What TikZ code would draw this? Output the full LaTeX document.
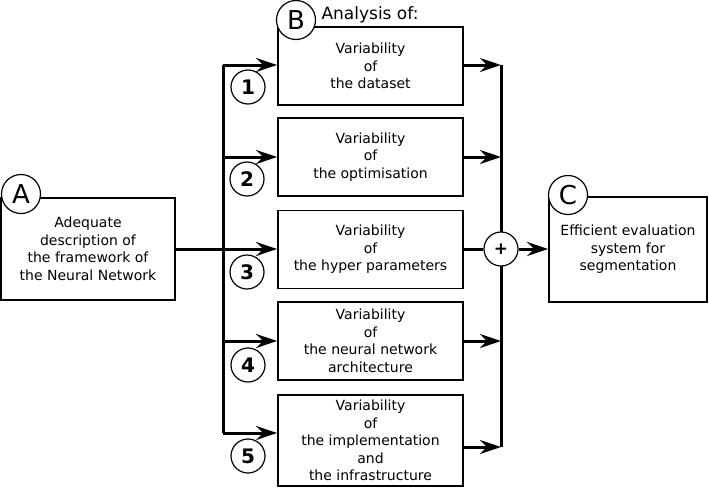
\documentclass[tikz,border=0pt]{standalone}
\usepackage{fontspec}
\setmainfont{DejaVu Sans}
\usetikzlibrary{arrows.meta,positioning}

\tikzset{
  stage/.style={draw, line width=1.8pt, align=center, inner sep=2pt,
    minimum width=185pt, minimum height=78pt,
    font=\fontsize{14}{17.5}\selectfont},
  letter/.style={draw, circle, fill=white, line width=1.2pt, inner sep=0pt,
    minimum size=39pt, font=\fontsize{26}{26}\selectfont},
  num/.style={draw, circle, line width=1.2pt, inner sep=0pt,
    minimum size=34pt, font=\bfseries\fontsize{20}{20}\selectfont},
  flow/.style={line width=3pt, -{Stealth[length=21pt,width=14pt,inset=7pt]}},
  bus/.style={line width=3pt}
}

\begin{document}
\begin{tikzpicture}[x=1pt,y=-1pt]
\useasboundingbox (0,0) rectangle (709,488);

% input block
\node[stage, minimum width=174pt, minimum height=102pt] (desc) at (88,249)
  {Adequate\\description of\\the framework of\\the Neural Network};
\node[letter] (A) at (21,194) {A};

% analysis blocks
\node[stage] (var1) at (370.5,66) {Variability\\of\\the dataset};
\node[stage] (var2) at (370.5,157) {Variability\\of\\the optimisation};
\node[stage] (var3) at (370.5,249.5) {Variability\\of\\the hyper parameters};
\node[stage] (var4) at (370.5,341) {Variability\\of\\the neural network\\architecture};
\node[stage, minimum height=91pt] (var5) at (370.5,440.5)
  {Variability\\of\\the implementation\\and\\the infrastructure};
\node[letter] (B) at (296,20) {B};
\node[anchor=west, font=\fontsize{17}{17}\selectfont] (title) at (318,15) {Analysis of:};

% output block
\node[stage, minimum width=158pt, minimum height=105pt] (eval) at (628,249.5)
  {Efficient evaluation\\system for\\segmentation};
\node[letter] (C) at (568,195) {C};

% left bus
\coordinate (in1) at (223,65);
\coordinate (in2) at (223,157);
\coordinate (in3) at (223,249);
\coordinate (in4) at (223,341);
\coordinate (in5) at (223,433);
\draw[bus] (in1) -- (in5);
\draw[flow] (desc.east |- in3) -- (in3 -| var3.west);
\foreach \i in {1,2,4,5}
  \draw[flow] (in\i) -- (in\i -| var\i.west);

% right bus
\coordinate (out1) at (501,65);
\coordinate (out2) at (501,157);
\coordinate (out4) at (501,341);
\coordinate (out5) at (501,447);
\draw[bus] (out1) -- (out5);
\foreach \i in {1,2,4,5}
  \draw[flow] (out\i -| var\i.east) -- (out\i);
\node[draw, circle, fill=white, line width=1.2pt, minimum size=34pt, inner sep=0pt,
  font=\bfseries\fontsize{17}{17}\selectfont] (sum) at (501,249) {+};
\draw[bus] (var3.east |- sum) -- (sum.west);
\draw[flow] (sum.east) -- (eval.west |- sum);

% numbers
\node[num] (n1) at (248,87) {1};
\node[num] (n2) at (247,179) {2};
\node[num] (n3) at (247,272) {3};
\node[num] (n4) at (248,365) {4};
\node[num] (n5) at (248,456) {5};
\end{tikzpicture}
\end{document}
